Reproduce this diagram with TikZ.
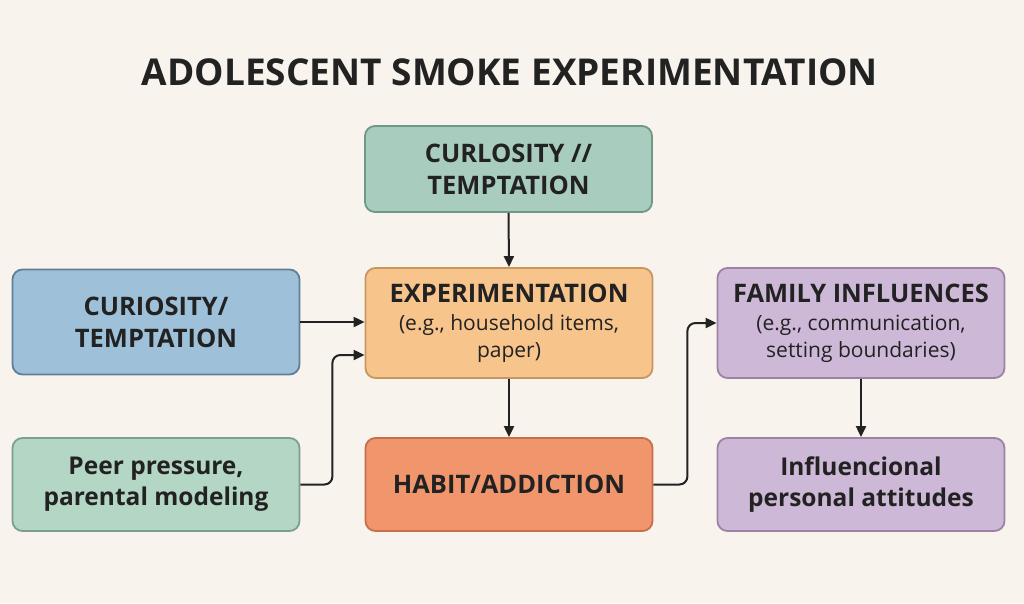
\documentclass[tikz,border=0pt]{standalone}
\usepackage{fontspec}
\setmainfont{Open Sans}
\usetikzlibrary{arrows.meta}
\definecolor{bg}{HTML}{F9F3EE}
\definecolor{ink}{HTML}{222222}
\definecolor{topfill}{HTML}{A8CDBE}
\definecolor{topdraw}{HTML}{6F9888}
\definecolor{bluefill}{HTML}{9EC1D9}
\definecolor{bluedraw}{HTML}{5F7F98}
\definecolor{orfill}{HTML}{F7C48C}
\definecolor{ordraw}{HTML}{C8975F}
\definecolor{habfill}{HTML}{F1966C}
\definecolor{habdraw}{HTML}{C56F4B}
\definecolor{purfill}{HTML}{CEB8D7}
\definecolor{purdraw}{HTML}{9A83A6}
\definecolor{grfill}{HTML}{B4D6C4}
\definecolor{grdraw}{HTML}{7BA08E}
\tikzset{
  box/.style={rounded corners=10pt, line width=1.8pt, minimum width=287pt, align=center, text=ink, inner sep=4pt},
  bigtxt/.style={font=\fontsize{25.5}{32}\selectfont\bfseries},
  lowtxt/.style={font=\fontsize{24.5}{31}\selectfont\bfseries},
  subtxt/.style={font=\fontsize{21}{27}\selectfont},
  arr/.style={draw=ink, line width=2pt, -{Triangle[length=11pt,width=10pt]}},
}
\newcommand{\headline}[1]{{\fontsize{25.5}{29}\selectfont\bfseries #1}}
\begin{document}
\begin{tikzpicture}[x=1pt,y=-1pt]
\useasboundingbox[fill=bg] (0,0) rectangle (1024,603);
\node[font=\fontsize{37}{40}\selectfont\bfseries, text=ink] (title) at (510,72) {ADOLESCENT SMOKE EXPERIMENTATION};

\node[box, bigtxt, fill=topfill, draw=topdraw, minimum height=86pt] (top) at (508.5,169) {CURLOSITY //\\TEMPTATION};
\node[box, bigtxt, fill=bluefill, draw=bluedraw, minimum height=105pt] (blue) at (156,322) {CURIOSITY/\\TEMPTATION};
\node[box, subtxt, fill=orfill, draw=ordraw, minimum height=110pt] (exp) at (509,323) {\headline{EXPERIMENTATION}\\[1pt](e.g., household items,\\paper)};
\node[box, subtxt, fill=purfill, draw=purdraw, minimum height=110pt] (fam) at (861,323) {\headline{FAMILY INFLUENCES}\\[1pt](e.g., communication,\\setting boundaries)};
\node[box, lowtxt, fill=grfill, draw=grdraw, minimum height=93pt] (peer) at (156,484.5) {Peer pressure,\\parental modeling};
\node[box, bigtxt, fill=habfill, draw=habdraw, minimum height=93pt] (hab) at (509,484.5) {HABIT/ADDICTION};
\node[box, lowtxt, fill=purfill, draw=purdraw, minimum height=93pt] (inf) at (861,484.5) {Influencional\\personal attitudes};

\draw[arr] (top.south) -- (exp.north);
\draw[arr] (blue.east) -- (blue.east -| exp.west);
\draw[arr, rounded corners=8pt] (peer.east) -- ++(32,0) |- ([yshift=-32pt]exp.west);
\draw[arr] (exp.south) -- (hab.north);
\draw[arr, rounded corners=8pt] (hab.east) -- ++(34,0) |- (fam.west);
\draw[arr] (fam.south) -- (inf.north);
\end{tikzpicture}
\end{document}
